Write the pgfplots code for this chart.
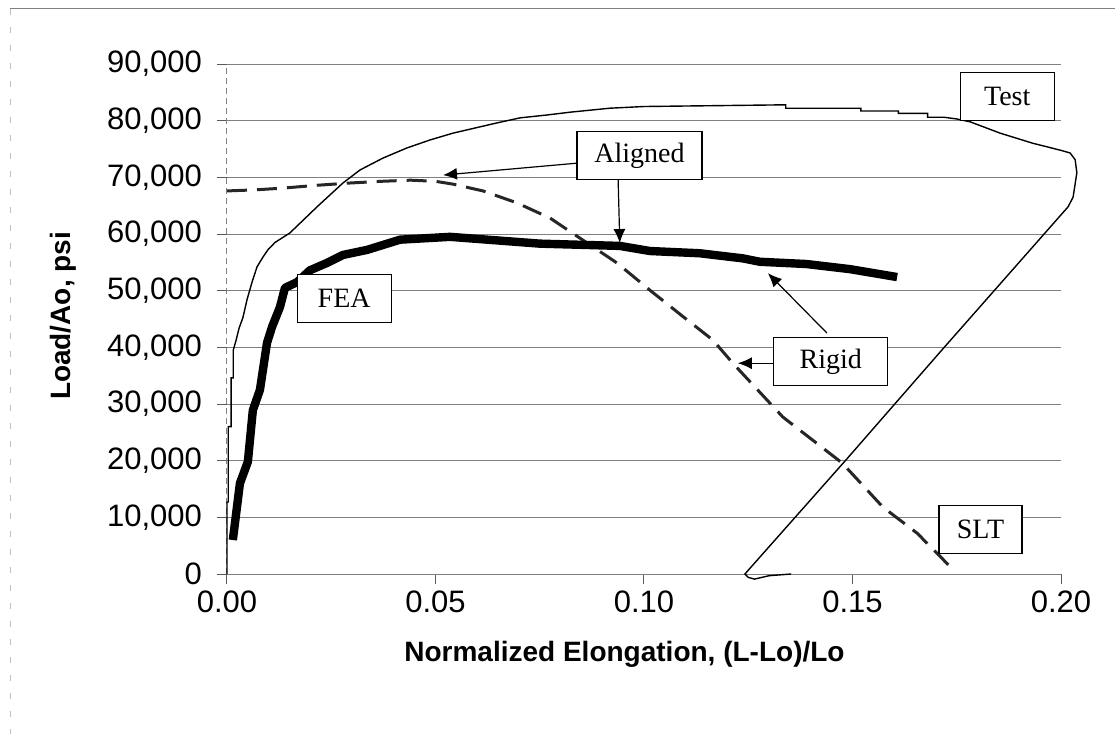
\documentclass[border=0pt]{standalone}
\usepackage{fontspec}
\setmainfont{Liberation Sans}
\newfontfamily\tnr{Liberation Serif}
\usepackage{pgfplots}
\pgfplotsset{compat=1.18}
\usetikzlibrary{arrows.meta}
\begin{document}
\begin{tikzpicture}
\begin{axis}[name=ax, scale only axis, width=417pt, height=255pt,
 xmin=0, xmax=0.2, ymin=0, ymax=90000,
 scaled y ticks=false, scaled x ticks=false,
 axis x line*=bottom, axis y line*=left,
 x axis line style={draw=gray, line width=0.5pt, -},
 y axis line style={draw=gray, densely dashed, line width=0.5pt, -},
 xtick={0,0.05,0.1,0.15,0.2}, xticklabels={0.00,0.05,0.10,0.15,0.20},
 ytick={0,10000,20000,30000,40000,50000,60000,70000,80000,90000},
 yticklabels={0,{10,000},{20,000},{30,000},{40,000},{50,000},{60,000},{70,000},{80,000},{90,000}},
 ymajorgrids, grid style={gray, line width=0.5pt},
 tick align=outside, major tick length=5pt, tick style={gray!70!black, line width=0.5pt},
 ticklabel style={font=\fontsize{15.5}{18}\selectfont},
 yticklabel style={xshift=-4pt},
 xlabel={Normalized Elongation, (L-Lo)/Lo}, ylabel={Load/Ao, psi},
 label style={font=\fontsize{14}{16}\selectfont\bfseries},
 xlabel style={at={(axis description cs:0.4766,-0.1725)}, anchor=base},
 ylabel style={at={(axis description cs:-0.1966,0.506)}, anchor=center},
 clip=false,
]
% Test curve
\addplot[black, line width=0.7pt] coordinates {
(0.0000,0) (0.0000,12700) (0.0003,12700) (0.0003,26000) (0.0010,26000) (0.0010,34600)
(0.0015,34600) (0.0015,39500) (0.0022,41300) (0.0029,43400) (0.0038,45200) (0.0048,48400)
(0.0060,51500) (0.0072,54200) (0.0086,55900) (0.0098,57200) (0.0115,58500) (0.0151,60200)
(0.0216,64800) (0.0278,69000) (0.0319,71300) (0.0374,73400) (0.0432,75200) (0.0487,76600)
(0.0542,77800) (0.0647,79600) (0.0703,80500) (0.0767,81000) (0.0823,81500) (0.0918,82200)
(0.1000,82500) (0.1340,82800) (0.1340,82200) (0.1520,82200) (0.1520,81700) (0.1610,81700)
(0.1610,81300) (0.1680,81300) (0.1680,80600) (0.1720,80600) (0.1750,80300) (0.1782,79800)
(0.1854,77800) (0.1933,76000) (0.1998,74800) (0.2022,74300) (0.2034,73100) (0.2038,70800)
(0.2029,66500) (0.2017,64800) (0.1714,39500) (0.1484,20100) (0.1242,0) (0.1250,-600)
(0.1265,-900) (0.1300,-300) (0.1353,0)
};
% SLT dashed curve
\addplot[black!85, line width=1.5pt, dash pattern=on 10pt off 5pt] coordinates {
(0,67600) (0.007,67800) (0.0134,68100) (0.0216,68600) (0.0295,69000) (0.037,69300)
(0.044,69500) (0.050,69300) (0.0542,68800) (0.0614,67600) (0.0695,65500) (0.0775,62800)
(0.0854,58900) (0.0935,54900) (0.1014,50100) (0.1094,45400) (0.1165,41300) (0.1213,37200)
(0.1333,27700) (0.1475,19600) (0.1573,11800) (0.1655,7200) (0.1745,500)
};
% FEA thick curve
\addplot[black, line width=4.2pt, line join=round] coordinates {
(0.0014,6000) (0.0031,16000) (0.0050,19800) (0.0062,28900) (0.0079,32500) (0.0096,40800)
(0.0108,43600) (0.0127,47100) (0.0139,50500) (0.0168,51500) (0.0199,53600) (0.0240,54900)
(0.0278,56300) (0.0336,57200) (0.0415,59000) (0.0535,59500) (0.0750,58300) (0.0942,57900)
(0.1014,57000) (0.1134,56600) (0.1237,55700) (0.1278,55100) (0.1390,54700) (0.1494,53800)
(0.1607,52400)
};
% annotations
\draw[-{Latex[length=7pt,width=6pt]}, line width=0.6pt] (axis cs:0.0839,72500) -- (axis cs:0.0518,70400);
\draw[-{Latex[length=7pt,width=6pt]}, line width=0.6pt] (axis cs:0.0938,69500) -- (axis cs:0.0942,58400);
\draw[-{Latex[length=7pt,width=6pt]}, line width=0.6pt] (axis cs:0.1439,42500) -- (axis cs:0.1297,53100);
\draw[-{Latex[length=7pt,width=6pt]}, line width=0.6pt] (axis cs:0.1312,37200) -- (axis cs:0.1225,37200);
\tikzset{lbox/.style={draw=black, fill=white, line width=0.6pt, inner sep=0pt, minimum height=24pt, font=\tnr\fontsize{14}{16}\selectfont}}
\node[lbox, minimum width=47pt] at (axis cs:0.1871,84200) {Test};
\node[lbox, minimum width=62.5pt] at (axis cs:0.0989,73800) {Aligned};
\node[lbox, minimum width=47pt] at (axis cs:0.0281,48600) {FEA};
\node[lbox, minimum width=57pt] at (axis cs:0.1448,37500) {Rigid};
\node[lbox, minimum width=41.5pt] at (axis cs:0.1807,7900) {SLT};
\end{axis}
\pgfresetboundingbox
\path[use as bounding box] ([shift={(-113.5pt,-80pt)}]ax.south west) rectangle ([shift={(444pt,287pt)}]ax.south west);
\draw[gray, line width=0.5pt] ([shift={(-108.5pt,282.5pt)}]ax.south west) -- ([shift={(444pt,282.5pt)}]ax.south west);
\draw[gray!50, dash pattern=on 3pt off 6pt, line width=0.4pt] ([shift={(-108.5pt,282.5pt)}]ax.south west) -- ([shift={(-108.5pt,-80pt)}]ax.south west);
\end{tikzpicture}
\end{document}
